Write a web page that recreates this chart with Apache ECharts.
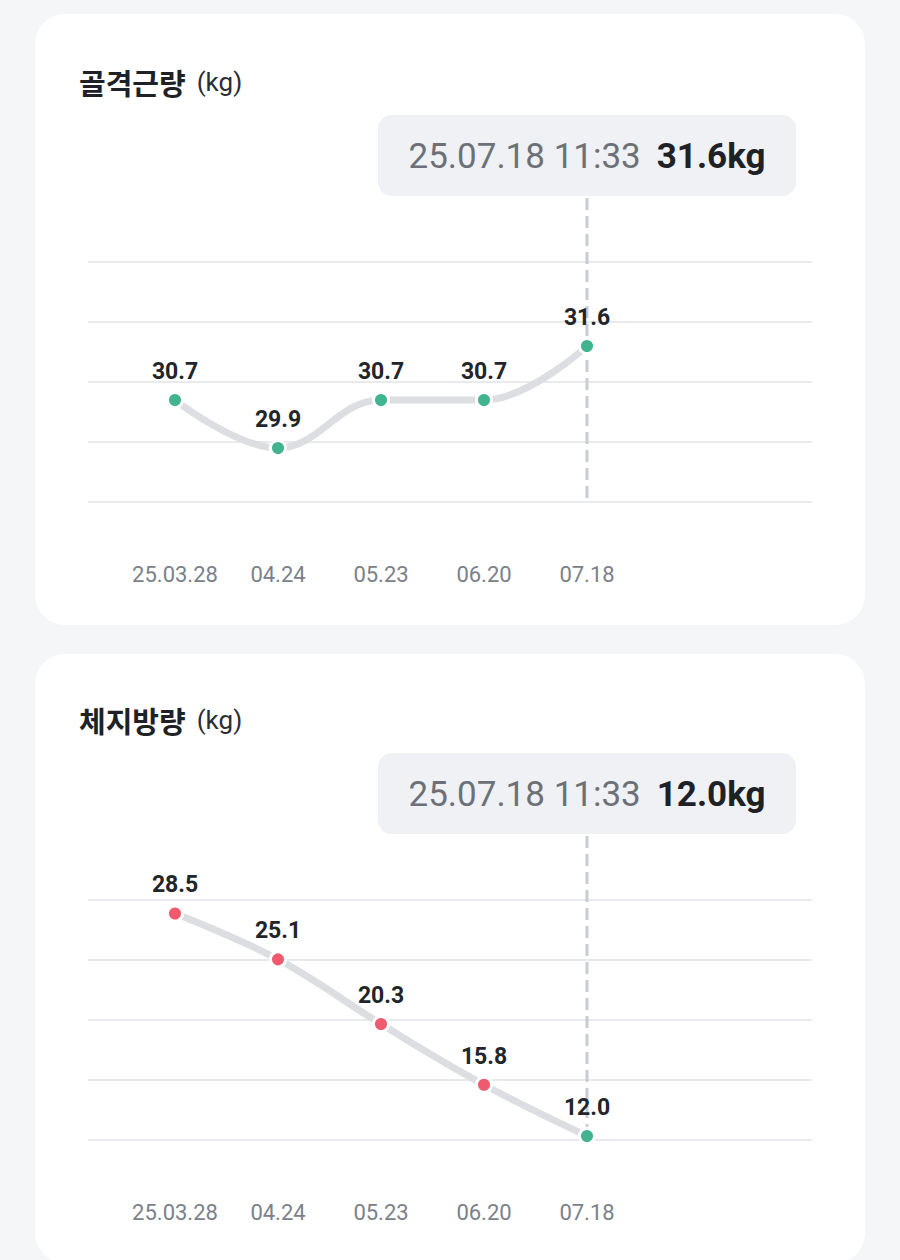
<!DOCTYPE html>
<html><head><meta charset="utf-8">
<script src="https://cdn.jsdelivr.net/npm/echarts@6/dist/echarts.min.js"></script>
<style>
html,body{margin:0;padding:0;background:#f5f6f8;}
#wrap{position:relative;width:900px;height:1260px;overflow:hidden;}
.card{position:absolute;left:35px;width:830px;background:#fff;border-radius:30px;}
#c{position:absolute;left:0;top:0;width:900px;height:1260px;}
</style>
</head><body>
<div id="wrap">
  <div class="card" style="top:14px;height:611px;"></div>
  <div class="card" style="top:654px;height:609px;"></div>
  <div id="c"></div>
</div>
<script>
// ---- data ----
const categories = ['25.03.28', '04.24', '05.23', '06.20', '07.18'];
const muscleValues = [30.7, 29.9, 30.7, 30.7, 31.6];
const muscleStatus = ['normal', 'normal', 'normal', 'normal', 'normal'];
const fatValues = [28.5, 25.1, 20.3, 15.8, 12.0];
const fatStatus = ['high', 'high', 'high', 'high', 'normal'];
const muscleRange = [29, 33];
const fatRange = [11.7, 29.5];
const tooltipTime = '25.07.18 11:33';
const unit = 'kg';
const titles = ['골격근량', '체지방량'];

// ---- styling ----
const statusColor = { normal: '#41b48f', high: '#ef5a6f' };
const panels = [
  { title: titles[0], values: muscleValues, status: muscleStatus, range: muscleRange, top: 262 },
  { title: titles[1], values: fatValues, status: fatStatus, range: fatRange, top: 900 }
];
const GRID_H = 240;
const H = 1260;

const chart = echarts.init(document.getElementById('c'), null, { renderer: 'svg' });

const grid = [], xAxis = [], yAxis = [], series = [];
panels.forEach((p, i) => {
  const bottom = H - p.top - GRID_H;
  grid.push({ left: 88, right: 88, top: p.top, bottom: bottom });
  grid.push({ left: 175, right: 313, top: p.top, bottom: bottom });
  xAxis.push({ gridIndex: i * 2, type: 'value', min: 0, max: 1, show: false });
  yAxis.push({
    gridIndex: i * 2, type: 'value', min: 0, max: 4, interval: 1,
    axisLine: { show: false }, axisTick: { show: false }, axisLabel: { show: false },
    splitLine: { show: true, lineStyle: { color: '#e9eaee', width: 2 } }
  });
  xAxis.push({
    gridIndex: i * 2 + 1, type: 'category', data: categories, boundaryGap: false,
    axisLine: { show: false }, axisTick: { show: false }, splitLine: { show: false },
    axisLabel: { interval: 0, hideOverlap: false, margin: 61, fontSize: 22, color: '#7b8189', fontFamily: 'Roboto' }
  });
  yAxis.push({
    gridIndex: i * 2 + 1, type: 'value', min: p.range[0], max: p.range[1],
    show: false, splitLine: { show: false }
  });
  series.push({
    type: 'line', xAxisIndex: i * 2 + 1, yAxisIndex: i * 2 + 1,
    smooth: 0.4,
    data: p.values.map((v, k) => ({ value: v, itemStyle: { color: statusColor[p.status[k]] } })),
    symbol: 'circle', symbolSize: 15,
    lineStyle: { color: '#dcdee2', width: 7 },
    itemStyle: { borderColor: '#ffffff', borderWidth: 3 },
    label: {
      show: true, position: 'top', distance: 8,
      fontSize: 23, fontWeight: 'bold', color: '#222529', fontFamily: 'Roboto',
      formatter: (d) => d.value.toFixed(1)
    },
    emphasis: { disabled: true },
    z: 3
  });
});

chart.setOption({
  animation: false,
  grid, xAxis, yAxis, series
});

// ---- overlay: titles, selected-point tooltip box and dashed pointer ----
const graphic = [];
panels.forEach((p, i) => {
  const last = p.values.length - 1;
  const pt = chart.convertToPixel({ xAxisIndex: i * 2 + 1, yAxisIndex: i * 2 + 1 }, [last, p.values[last]]);
  const gridBottom = p.top + GRID_H;
  const boxW = 418, boxH = 81;
  const boxTop = p.top - 147;
  graphic.push({
    type: 'text', left: 79, top: p.top - 195, z: 10,
    style: {
      text: '{t|' + p.title + '}{u|(' + unit + ')}',
      rich: {
        t: { fontSize: 29, fontWeight: 'bold', fontFamily: 'Noto Sans CJK KR', fill: '#1e2227', color: '#1e2227' },
        u: { fontSize: 26, fontFamily: 'Roboto', fill: '#2b2f35', color: '#2b2f35', padding: [0, 0, 0, 11] }
      }
    }
  });
  graphic.push({
    type: 'line', z: 1,
    shape: { x1: pt[0], y1: boxTop + boxH + 2, x2: pt[0], y2: gridBottom },
    style: { stroke: '#c9ccd2', lineWidth: 3, lineDash: [12, 6] }
  });
  graphic.push({
    type: 'rect', z: 5,
    shape: { x: pt[0] - boxW / 2, y: boxTop, width: boxW, height: boxH, r: 14 },
    style: { fill: '#f0f1f4' }
  });
  graphic.push({
    type: 'text', z: 6, x: pt[0], y: boxTop + boxH / 2 + 1,
    style: {
      text: '{d|' + tooltipTime + '}{v|' + p.values[last].toFixed(1) + unit + '}',
      align: 'center', verticalAlign: 'middle',
      rich: {
        d: { fontSize: 35, fontFamily: 'Roboto', fill: '#6c7179', color: '#6c7179' },
        v: { fontSize: 35, fontWeight: 'bold', fontFamily: 'Roboto', fill: '#1e2227', color: '#1e2227', padding: [0, 0, 0, 16] }
      }
    }
  });
});
chart.setOption({ graphic });
</script>
</body></html>
